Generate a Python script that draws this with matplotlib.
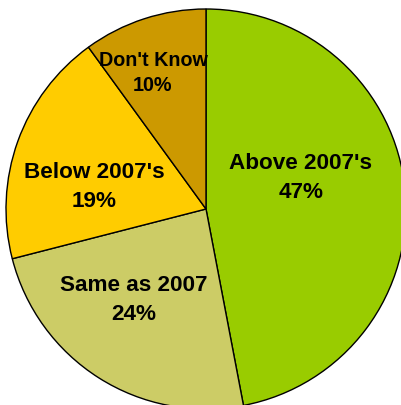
import matplotlib
matplotlib.use("Agg")
import matplotlib.pyplot as plt

# datos
categorias = ["Above 2007's", "Same as 2007", "Below 2007's", "Don't Know"]
valores = [47, 24, 19, 10]
colores = ["#99CC00", "#CCCC66", "#FFCC00", "#CC9900"]

# posiciones de las etiquetas (en pixeles, y hacia arriba) y tamaño de letra
pos_etiquetas = [(301, 227), (134, 105), (94, 218), (153, 332)]
tamanos = [16.2, 16.2, 16.2, 14.2]
interlineado = [1.5, 1.5, 1.5, 1.4]

fig = plt.figure(figsize=(4.02, 4.05), dpi=100)
ax = fig.add_axes([0, 0, 1, 1])

ax.pie(
    valores,
    colors=colores,
    startangle=90,
    counterclock=False,
    center=(206, 196),
    radius=200,
    wedgeprops=dict(edgecolor="black", linewidth=1),
    frame=True,
)

for cat, val, (x, y), fs, ls in zip(categorias, valores, pos_etiquetas, tamanos, interlineado):
    ax.text(x, y, f"{cat}\n{val}%", ha="center", va="center",
            fontsize=fs, fontweight="bold", family="Liberation Sans",
            linespacing=ls)

ax.set_xlim(0, 402)
ax.set_ylim(0, 405)
ax.set_aspect("equal")
ax.axis("off")

plt.savefig("out.png", dpi=100)
